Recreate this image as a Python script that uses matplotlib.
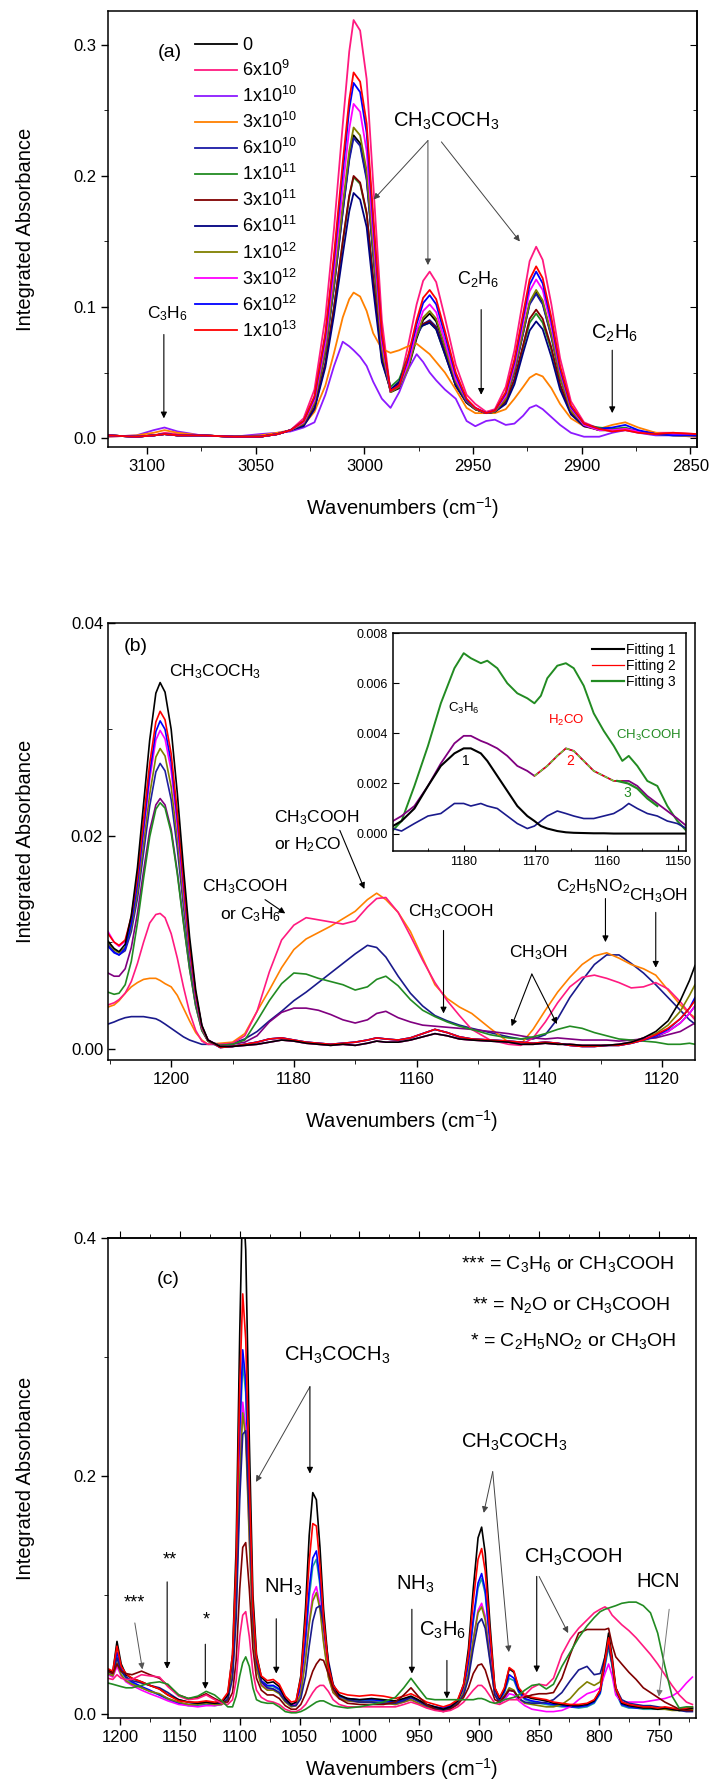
import matplotlib.pyplot as plt
from matplotlib.ticker import MultipleLocator, FormatStrFormatter

plt.rcParams['font.family'] = ['Liberation Sans', 'DejaVu Sans']
plt.rcParams['mathtext.fontset'] = 'custom'
plt.rcParams['mathtext.rm'] = 'Liberation Sans'
plt.rcParams['mathtext.it'] = 'Liberation Sans:italic'
plt.rcParams['mathtext.bf'] = 'Liberation Sans:bold'
plt.rcParams['axes.linewidth'] = 1.1

# ---------------- panel (a): 3120-2850 cm-1 ----------------
wn_a = [3118, 3105, 3097, 3092, 3086, 3075, 3060, 3048, 3040, 3034,
        3028, 3023, 3018, 3014, 3010, 3007, 3005, 3002, 2999, 2996,
        2992, 2988, 2984, 2980, 2976, 2973, 2970, 2967, 2963, 2958,
        2953, 2949, 2944, 2940, 2935, 2931, 2927, 2924, 2921, 2918,
        2914, 2910, 2905, 2899, 2892,
        2886, 2880, 2874, 2866, 2858, 2847]

base_a_left = [.002, .001, .002, .003, .002, .002, .001, .001, .003, .006]
base_a_right = [.006, .007, .005, .003, .003, .002]

doses = ['0', '6x10$^{9}$', '1x10$^{10}$', '3x10$^{10}$', '6x10$^{10}$',
         '1x10$^{11}$', '3x10$^{11}$', '6x10$^{11}$', '1x10$^{12}$',
         '3x10$^{12}$', '6x10$^{12}$', '1x10$^{13}$']
colors_a = ['black', '#FF1A80', '#8C1AFF', '#FF8000', '#1A1AA6', '#228B22',
            '#800000', '#000080', '#808000', '#FF00FF', '#0000FF', '#FF0000']

a_0 = base_a_left + [
    .011, .027, .066, .116, .173, .214, .231, .225, .199, .141,
    .068, .035, .038, .052, .076, .090, .095, .089, .069, .043,
    .028, .022, .019, .020, .031, .051, .080, .103, .111, .103,
    .078, .047, .022, .010, .006] + base_a_right
a_6e9 = [.002, .001, .002, .004, .003, .002, .001, .001, .003, .006] + [
    .015, .037, .092, .160, .239, .295, .319, .311, .274, .195,
    .090, .035, .041, .070, .102, .120, .127, .119, .092, .056,
    .033, .026, .020, .022, .039, .067, .106, .135, .146, .136,
    .102, .061, .028, .012, .007] + [.005, .006, .005, .004, .004, .003]
a_1e10 = [.001, .002, .006, .008, .005, .002, .001, .003, .004, .005,
          .008, .012, .033, .055, .0735, .070, .067, .062, .055, .043,
          .030, .023, .035, .052, .064, .058, .050, .044, .037, .030,
          .013, .009, .013, .014, .010, .011, .017, .023, .025, .022,
          .016, .010, .004, .001, .001,
          .004, .006, .004, .002, .002, .001]
a_3e10 = [.001, .002, .004, .006, .004, .002, .001, .002, .004, .006,
          .010, .020, .040, .065, .092, .106, .111, .108, .097, .080,
          .068, .065, .067, .070, .072, .068, .064, .058, .050, .037,
          .023, .019, .019, .019, .022, .030, .039, .046, .049, .047,
          .038, .026, .015, .009, .007,
          .010, .012, .008, .004, .002, .001]
a_6e10 = base_a_left + [
    .011, .026, .066, .115, .172, .212, .229, .223, .197, .140,
    .068, .037, .040, .055, .078, .087, .090, .085, .066, .041,
    .027, .022, .019, .020, .030, .050, .080, .102, .110, .102,
    .077, .046, .021, .010, .006] + base_a_right
a_1e11 = base_a_left + [
    .010, .023, .057, .100, .149, .184, .199, .194, .171, .122,
    .062, .039, .045, .062, .082, .086, .088, .083, .064, .040,
    .027, .022, .019, .020, .027, .044, .069, .088, .095, .088,
    .067, .040, .019, .010, .008] + [.007, .008, .005, .003, .002, .002]
a_3e11 = base_a_left + [
    .010, .023, .057, .100, .150, .185, .200, .195, .172, .122,
    .060, .036, .042, .060, .082, .087, .089, .084, .065, .040,
    .027, .022, .019, .020, .028, .045, .071, .091, .098, .091,
    .069, .041, .019, .009, .006] + base_a_right
a_6e11 = base_a_left + [
    .009, .022, .054, .094, .140, .173, .187, .182, .161, .114,
    .058, .037, .043, .060, .083, .086, .088, .083, .064, .040,
    .027, .022, .019, .020, .026, .041, .065, .082, .089, .083,
    .062, .037, .018, .009, .007] + base_a_right
a_1e12 = base_a_left + [
    .011, .027, .068, .119, .178, .219, .237, .231, .204, .145,
    .068, .035, .039, .053, .078, .092, .097, .091, .070, .043,
    .028, .022, .019, .020, .030, .052, .082, .104, .113, .105,
    .079, .047, .021, .010, .006] + base_a_right
a_3e12 = base_a_left + [
    .012, .029, .073, .128, .191, .236, .255, .249, .219, .156,
    .073, .036, .040, .056, .082, .097, .102, .096, .074, .045,
    .029, .023, .019, .021, .032, .055, .088, .112, .121, .113,
    .085, .051, .023, .010, .006] + base_a_right
a_6e12 = base_a_left + [
    .013, .031, .078, .136, .203, .251, .271, .264, .233, .165,
    .078, .036, .040, .060, .087, .103, .109, .102, .079, .048,
    .029, .023, .019, .021, .034, .058, .092, .117, .127, .118,
    .089, .053, .024, .011, .007] + [.008, .010, .006, .003, .002, .002]
a_1e13 = base_a_left + [
    .013, .032, .080, .140, .210, .258, .279, .272, .240, .170,
    .080, .036, .040, .062, .090, .107, .113, .106, .082, .050,
    .030, .023, .019, .021, .035, .060, .095, .121, .131, .122,
    .092, .055, .025, .011, .007] + [.005, .006, .004, .003, .004, .003]

spectra_a = [a_0, a_6e9, a_1e10, a_3e10, a_6e10, a_1e11, a_3e11, a_6e11,
             a_1e12, a_3e12, a_6e12, a_1e13]

# ---------------- panel (b): 1210-1115 cm-1 ----------------
wn_b = [1210.3, 1209.3, 1208.5, 1207.5, 1206.5, 1205.5, 1204.5, 1203.5, 1202.5,
        1201.8, 1201, 1200, 1199, 1198, 1197, 1196, 1195, 1194,
        1192, 1190, 1188, 1186, 1184, 1182, 1180, 1178, 1176, 1174,
        1172, 1170, 1168, 1166.5, 1165, 1163, 1161, 1159, 1157, 1155,
        1153, 1151, 1148, 1145, 1143, 1141, 1139, 1137, 1135, 1133,
        1131, 1129, 1127, 1125, 1123, 1121, 1119, 1117, 1115.5, 1114.6]

base_b1 = [.0002, .0002, .0003, .0004, .0006, .0008, .0007, .0005, .0004, .0003,
           .0004, .0003, .0005, .0007, .0006, .0006, .0008, .0011, .0014, .0012,
           .0009, .0008, .0007, .0006, .0004, .0004, .0005, .0004, .0004, .0003,
           .0003, .0003, .0004, .0006, .0010]
base_b2 = [.0001, .0002, .0004, .0006, .0009, .0010, .0008, .0006, .0005, .0004,
           .0005, .0006, .0008, .0010, .0009, .0008, .0010, .0014, .0018, .0015,
           .0011, .0009, .0008, .0007, .0006, .0005, .0006, .0005, .0003, .0002,
           .0002, .0003, .0003, .0005, .0008]

b_black = [.0101, .0094, .0091, .0098, .0125, .0170, .0230, .0290, .0334,
           .0344, .0335, .0300, .0240, .0170, .0105, .0055, .0022, .0008] + \
    base_b1 + [.0016, .0026, .0045, .0064, .0078]
b_red = [.0108, .0100, .0097, .0102, .0124, .0162, .0215, .0268, .0307,
         .0317, .0309, .0277, .0222, .0158, .0098, .0052, .0021, .0008] + \
    base_b2 + [.0013, .0019, .0028, .0038, .0045]
b_blue = [.0096, .0090, .0088, .0094, .0117, .0155, .0207, .0259, .0298,
          .0308, .0300, .0269, .0216, .0154, .0096, .0051, .0021, .0008] + \
    base_b2 + [.0012, .0018, .0028, .0038, .0048]
b_magenta = [.0110, .0100, .0096, .0101, .0121, .0155, .0204, .0253, .0290,
             .0299, .0291, .0261, .0209, .0149, .0093, .0049, .0020, .0008] + \
    base_b1 + [.0012, .0016, .0024, .0033, .0040]
b_olive = [.0100, .0093, .0090, .0095, .0114, .0147, .0193, .0239, .0274,
           .0282, .0275, .0246, .0197, .0141, .0088, .0047, .0019, .0007] + \
    base_b1 + [.0014, .0022, .0035, .0050, .0060]
b_royal = [.0098, .0091, .0088, .0092, .0110, .0141, .0184, .0228, .0260,
           .0268, .0261, .0234, .0188, .0134, .0084, .0045, .0019, .0007] + \
    base_b2 + [.0011, .0016, .0024, .0033, .0040]
b_green = [.0053, .0051, .0052, .0060, .0082, .0118, .0160, .0199, .0225,
           .0231, .0226, .0203, .0164, .0118, .0075, .0040, .0017, .0007,
           .0003, .0004, .0008, .0026, .0045, .0061, .0071, .0070, .0066, .0063,
           .0060, .0055, .0058, .0065, .0068, .0059, .0046, .0036, .0030, .0025,
           .0021, .0018, .0013, .0010, .0009, .0011, .0014, .0018, .0021, .0019,
           .0015, .0012, .0009, .0008, .0007, .0006, .0004, .0004, .0005, .0004]
b_purple = [.0071, .0068, .0068, .0075, .0095, .0127, .0167, .0205, .0229,
            .0235, .0229, .0206, .0166, .0119, .0075, .0040, .0017, .0007,
            .0003, .0004, .0006, .0012, .0025, .0034, .0038, .0038, .0036, .0032,
            .0027, .0024, .0027, .0033, .0035, .0029, .0025, .0022, .0021, .0020,
            .0019, .0018, .0016, .0014, .0012, .0010, .0009, .0010, .0009, .0008,
            .0008, .0008, .0007, .0008, .0009, .0010, .0013, .0016, .0021, .0024]
b_pink = [.0041, .0043, .0046, .0052, .0063, .0080, .0100, .0118, .0126,
          .0127, .0123, .0108, .0085, .0058, .0034, .0017, .0007, .0004,
          .0004, .0005, .0012, .0035, .0072, .0102, .0116, .0123, .0121, .0119,
          .0117, .0120, .0133, .0141, .0142, .0128, .0106, .0083, .0062, .0045,
          .0031, .0018, .0008, .0004, .0003, .0010, .0025, .0043, .0058, .0067,
          .0069, .0066, .0062, .0057, .0058, .0062, .0056, .0044, .0033, .0027]
b_orange = [.0039, .0041, .0045, .0052, .0058, .0062, .0065, .0066, .0066,
            .0064, .0061, .0058, .0050, .0038, .0026, .0015, .0008, .0004,
            .0005, .0006, .0014, .0035, .0055, .0076, .0093, .0103, .0109, .0115,
            .0122, .0129, .0140, .0146, .0140, .0128, .0110, .0085, .0060, .0047,
            .0039, .0033, .0019, .0006, .0004, .0018, .0036, .0053, .0067, .0079,
            .0087, .0090, .0085, .0079, .0075, .0069, .0055, .0041, .0033, .0029]
b_navy = [.0023, .0025, .0027, .0029, .0030, .0030, .0030, .0029, .0028,
          .0026, .0023, .0019, .0015, .0011, .0008, .0006, .0004, .0004,
          .0004, .0005, .0009, .0016, .0026, .0035, .0045, .0053, .0062, .0071,
          .0080, .0089, .0097, .0095, .0086, .0068, .0052, .0040, .0031, .0026,
          .0022, .0019, .0015, .0011, .0009, .0009, .0013, .0028, .0048, .0064,
          .0079, .0088, .0088, .0080, .0071, .0060, .0048, .0036, .0027, .0023]

spectra_b = [b_navy, b_orange, b_pink, b_purple, b_green, b_royal, b_olive,
             b_magenta, b_blue, b_red, b_black]
colors_b = ['#1A1A8C', '#FF8000', '#FF1A80', '#800080', '#228B22', '#2020A0',
            '#808000', '#FF00FF', '#0000FF', '#FF0000', 'black']

# inset of panel (b): band fitting
wn_in = [1189.9, 1188.7, 1186.9, 1185, 1183.2, 1181.3, 1180, 1179, 1177.6, 1176.7,
         1175.3, 1173.9, 1172.5, 1171.1, 1170.1, 1169.2, 1168.3, 1166.9, 1165.7, 1164.6,
         1163.2, 1161.8, 1160.4, 1159, 1157.8, 1156.9, 1155.7, 1154.3, 1152.9, 1151.5,
         1150.1, 1148.8]
in_green = [.00013, .0005, .0019, .0035, .0052, .0066, .0072, .0070, .0068, .0069,
            .0066, .0060, .0056, .0054, .0052, .0055, .0062, .0067, .0068, .0066,
            .0059, .0048, .0041, .0035, .0029, .0031, .0027, .0021, .0019, .0011,
            .0005, .0001]
in_purple = [.0005, .0007, .0011, .0019, .0028, .0036, .0039, .0039, .0037, .0036,
             .0034, .0031, .0027, .0025, .0023, .0025, .0027, .0031, .0034, .0033,
             .0029, .0025, .0023, .0021, .0021, .0021, .0019, .0015, .0012, .0009,
             .0006, .0003]
in_navy = [.0002, .0001, .0004, .0007, .0008, .0012, .0012, .0011, .0012, .0011,
           .0010, .0007, .0004, .0002, .0003, .0005, .0007, .0009, .0008, .0007,
           .0006, .0006, .0007, .0008, .0010, .0012, .0010, .0008, .0007, .0005,
           .0004, .0002]
fit1 = [.0003, .0005, .0010, .0019, .0027, .0032, .0034, .0034, .0032, .0029,
        .0023, .0017, .0011, .0007, .0005, .0003, .0002, .0001, .00005, .00003,
        .00002, .00001, .00001, 0, 0, 0, 0, 0, 0, 0, 0, 0]
fit2_wn = [1170.1, 1169.2, 1168.3, 1166.9, 1165.7, 1164.6, 1163.2, 1161.8, 1160.4, 1159, 1157.8]
fit2 = [.0023, .0025, .0027, .0031, .0034, .0033, .0029, .0025, .0023, .0021, .0021]
fit3_wn = [1158.5, 1157, 1155.7, 1154.3, 1152.9]
fit3 = [.0021, .0020, .0018, .0014, .0011]

# ---------------- panel (c): 1210-720 cm-1 ----------------
wn_c = [1210, 1206, 1202.5, 1199, 1195, 1190, 1182, 1175, 1167, 1160,
        1151, 1143, 1135, 1128, 1121, 1115, 1110, 1106, 1103, 1100,
        1097.5, 1095, 1092, 1089, 1086, 1082, 1077, 1072, 1067, 1062,
        1057, 1053, 1049, 1045, 1042, 1039, 1036, 1033, 1030, 1026,
        1022, 1017, 1010, 1000, 990, 980, 970, 963, 957, 951,
        944, 937, 930, 924, 918, 913, 909, 905, 901, 898,
        895, 891, 887, 883, 879, 875, 871, 867, 862, 856,
        850, 844, 838, 831, 824, 817, 810, 804, 799, 795,
        792, 789, 786, 781, 775, 769, 763, 757, 751, 745,
        739, 733, 727, 722]

c_black = [.037, .035, .061, .042, .033, .030, .027, .024, .021, .016,
           .012, .010, .009, .010, .009, .010, .016, .050, .140, .320,
           .440, .390, .230, .100, .050, .031, .026, .027, .023, .013,
           .008, .010, .032, .090, .150, .186, .180, .140, .088, .042,
           .024, .016, .013, .012, .013, .012, .011, .013, .015, .012,
           .008, .006, .004, .006, .011, .025, .055, .105, .148, .157,
           .135, .075, .022, .013, .021, .038, .035, .021, .015, .013,
           .012, .011, .009, .008, .007, .007, .008, .011, .020, .048,
           .068, .048, .022, .009, .007, .006, .005, .005, .004, .005,
           .004, .003, .004, .005]
c_red = [.038, .036, .057, .040, .034, .030, .027, .024, .021, .016,
         .011, .010, .010, .011, .010, .011, .018, .050, .125, .275,
         .353, .315, .195, .090, .048, .032, .028, .029, .025, .015,
         .010, .011, .030, .080, .128, .160, .158, .125, .080, .040,
         .024, .018, .016, .015, .016, .015, .013, .015, .017, .014,
         .010, .008, .006, .008, .012, .025, .050, .095, .130, .139,
         .120, .068, .022, .014, .022, .039, .036, .022, .016, .014,
         .013, .012, .010, .009, .008, .008, .009, .012, .020, .045,
         .064, .045, .022, .010, .008, .007, .006, .006, .005, .006,
         .005, .004, .005, .006]
c_blue = [.036, .034, .052, .038, .031, .027, .023, .020, .016, .013,
          .009, .008, .008, .009, .008, .009, .015, .042, .110, .240,
          .306, .280, .175, .082, .044, .028, .024, .024, .021, .013,
          .008, .009, .024, .065, .105, .131, .137, .112, .074, .037,
          .021, .015, .013, .012, .012, .011, .010, .012, .014, .011,
          .008, .006, .005, .007, .011, .022, .043, .080, .110, .118,
          .104, .060, .020, .012, .019, .033, .030, .019, .013, .011,
          .010, .009, .008, .007, .006, .006, .007, .010, .018, .042,
          .060, .042, .019, .008, .006, .005, .005, .005, .004, .005,
          .004, .004, .004, .005]
c_cyan = [.035, .033, .048, .036, .030, .026, .022, .019, .016, .012,
          .009, .007, .007, .008, .007, .008, .014, .040, .105, .230,
          .295, .270, .170, .080, .043, .027, .023, .023, .020, .012,
          .007, .008, .022, .060, .098, .124, .130, .108, .071, .036,
          .020, .014, .012, .011, .011, .010, .009, .011, .013, .010,
          .007, .005, .004, .006, .010, .021, .041, .077, .106, .114,
          .101, .058, .019, .011, .018, .030, .028, .018, .012, .010,
          .009, .008, .007, .006, .006, .005, .006, .009, .017, .040,
          .056, .040, .018, .007, .005, .005, .004, .004, .004, .004,
          .004, .003, .004, .004]
c_magenta = [.033, .031, .040, .032, .027, .024, .020, .017, .014, .011,
             .008, .007, .006, .007, .007, .008, .013, .036, .095, .205,
             .262, .240, .150, .072, .040, .025, .021, .021, .018, .011,
             .007, .008, .018, .048, .078, .100, .107, .092, .062, .032,
             .018, .013, .011, .010, .010, .009, .008, .010, .012, .009,
             .006, .004, .003, .005, .009, .018, .034, .063, .087, .093,
             .082, .048, .016, .009, .012, .017, .016, .011, .007, .004,
             .003, .002, .002, .003, .006, .012, .017, .019, .022, .034,
             .042, .032, .016, .010, .010, .010, .010, .011, .012, .013,
             .015, .019, .026, .031]
c_olive = [.034, .032, .043, .033, .028, .025, .022, .019, .017, .013,
           .010, .008, .008, .009, .008, .008, .013, .035, .092, .198,
           .253, .232, .146, .070, .038, .024, .020, .020, .017, .010,
           .006, .007, .017, .046, .075, .095, .102, .088, .060, .031,
           .018, .013, .011, .010, .010, .009, .008, .010, .012, .009,
           .006, .004, .003, .005, .009, .018, .034, .062, .085, .090,
           .079, .046, .016, .010, .015, .022, .020, .013, .009, .008,
           .007, .006, .006, .008, .013, .021, .027, .024, .027, .045,
           .060, .042, .020, .010, .007, .006, .005, .005, .004, .004,
           .003, .003, .003, .004]
c_navy = [.037, .035, .047, .036, .031, .028, .026, .024, .022, .018,
          .012, .010, .009, .010, .009, .009, .012, .030, .080, .180,
          .235, .238, .165, .082, .044, .027, .022, .021, .018, .011,
          .007, .007, .013, .032, .057, .078, .089, .091, .075, .045,
          .025, .016, .012, .010, .010, .009, .009, .011, .014, .011,
          .007, .005, .003, .005, .009, .016, .030, .055, .076, .080,
          .072, .044, .016, .010, .014, .020, .019, .013, .010, .009,
          .009, .010, .012, .018, .028, .037, .040, .033, .034, .048,
          .058, .042, .022, .012, .009, .008, .007, .007, .006, .005,
          .004, .003, .002, .002]
c_wine = [.036, .034, .042, .036, .034, .033, .036, .033, .030, .024,
          .016, .013, .014, .017, .013, .010, .010, .018, .045, .105,
          .140, .144, .105, .055, .030, .020, .016, .016, .013, .007,
          .004, .004, .008, .017, .027, .036, .042, .046, .045, .034,
          .021, .013, .009, .008, .008, .008, .010, .016, .022, .015,
          .008, .004, .002, .004, .008, .014, .022, .034, .041, .042,
          .037, .024, .012, .010, .015, .020, .019, .014, .014, .016,
          .017, .017, .018, .030, .050, .068, .071, .071, .071, .071,
          .072, .058, .048, .042, .035, .029, .022, .018, .014, .010,
          .007, .004, .003, .003]
c_pink = [.030, .029, .033, .030, .029, .029, .033, .032, .031, .023,
          .015, .012, .013, .016, .012, .009, .008, .012, .028, .065,
          .083, .086, .065, .035, .020, .014, .011, .010, .008, .004,
          .002, .002, .004, .008, .013, .018, .022, .024, .024, .019,
          .012, .008, .006, .006, .006, .006, .006, .008, .010, .008,
          .005, .003, .002, .003, .006, .010, .015, .020, .024, .024,
          .021, .015, .009, .008, .010, .012, .012, .012, .016, .022,
          .025, .024, .030, .050, .063, .072, .079, .085, .088, .090,
          .088, .083, .080, .075, .070, .064, .057, .050, .042, .033,
          .024, .016, .010, .008]
c_green = [.026, .025, .024, .023, .022, .022, .024, .026, .027, .025,
           .016, .013, .015, .019, .016, .011, .006, .006, .015, .032,
           .043, .048, .040, .022, .012, .010, .009, .009, .006, .002,
           .001, .001, .002, .004, .006, .008, .010, .011, .011, .009,
           .007, .006, .005, .006, .008, .010, .014, .022, .030, .022,
           .013, .012, .012, .012, .012, .012, .012, .012, .013, .013,
           .012, .010, .009, .010, .012, .013, .014, .016, .020, .024,
           .025, .021, .025, .040, .052, .064, .074, .081, .086, .088,
           .089, .090, .091, .093, .094, .094, .091, .085, .068, .040,
           .015, .005, .006, .006]

spectra_c = [c_cyan, c_blue, c_magenta, c_olive, c_navy, c_black, c_red,
             c_wine, c_pink, c_green]
colors_c = ['#1E9E9E', '#0000FF', '#FF00FF', '#808000', '#1A1A8C', 'black',
            '#FF0000', '#800000', '#FF1A80', '#228B22']


def arrow(ax, x0, y0, x1, y1, color='black', lw=0.8):
    ax.annotate('', xy=(x1, y1), xytext=(x0, y0),
                arrowprops=dict(arrowstyle='-|>', color=color, lw=lw,
                                mutation_scale=9, shrinkA=0, shrinkB=0))


def style_axis(ax, label_x=-0.124):
    ax.set_ylabel('Integrated Absorbance', fontsize=14.5)
    ax.yaxis.set_label_coords(label_x, 0.5)
    ax.tick_params(labelsize=12, width=1.0)
    ax.tick_params(which='major', length=5)
    ax.tick_params(which='minor', length=3)


fig = plt.figure(figsize=(7.11, 17.82), dpi=100)

# Panel (a)
ax1 = fig.add_axes([0.1519, 0.7492, 0.8284, 0.2447])
for y, c, lab in zip(spectra_a, colors_a, doses):
    ax1.plot(wn_a, y, color=c, lw=1.3, label=lab)
ax1.set_xlim(3118, 2847)
ax1.set_ylim(-0.0068, 0.326)
ax1.xaxis.set_major_locator(MultipleLocator(50))
ax1.xaxis.set_minor_locator(MultipleLocator(25))
ax1.yaxis.set_major_locator(MultipleLocator(0.1))
ax1.yaxis.set_minor_locator(MultipleLocator(0.05))
ax1.yaxis.set_major_formatter(FormatStrFormatter('%.1f'))
ax1.tick_params(which='both', direction='out')
style_axis(ax1)
ax1.set_xlabel('Wavenumbers (cm$^{-1}$)', fontsize=14.5)
ax1.xaxis.set_label_coords(0.5, -0.11)
sec1 = ax1.secondary_yaxis('right')
sec1.yaxis.set_major_locator(MultipleLocator(0.1))
sec1.yaxis.set_minor_locator(MultipleLocator(0.05))
sec1.tick_params(which='both', direction='in', labelright=False)
sec1.tick_params(which='major', length=5)
sec1.tick_params(which='minor', length=3)
ax1.legend(loc='upper left', bbox_to_anchor=(0.148, 0.94), frameon=False,
           fontsize=13, handlelength=2.3, handletextpad=0.3, labelspacing=0.33,
           borderpad=0, borderaxespad=0)
ax1.text(3089.5, 0.294, '(a)', fontsize=14, ha='center', va='center')
ax1.text(2962.5, 0.242, 'CH$_3$COCH$_3$', fontsize=14.5, ha='center', va='center')
arrow(ax1, 2970.8, 0.227, 2995.8, 0.182, color='#444444', lw=0.7)
arrow(ax1, 2970.8, 0.227, 2970.8, 0.132, color='#444444', lw=0.7)
arrow(ax1, 2964.6, 0.226, 2928.5, 0.150, color='#444444', lw=0.7)
ax1.text(2947.5, 0.121, 'C$_2$H$_6$', fontsize=13, ha='center', va='center')
arrow(ax1, 2946.3, 0.098, 2946.3, 0.033)
ax1.text(3090.6, 0.095, 'C$_3$H$_6$', fontsize=12.5, ha='center', va='center')
arrow(ax1, 3092.3, 0.079, 3092.3, 0.015)
ax1.text(2884.8, 0.080, 'C$_2$H$_6$', fontsize=14.5, ha='center', va='center')
arrow(ax1, 2886, 0.067, 2886, 0.019)

# Panel (b)
ax2 = fig.add_axes([0.1519, 0.4052, 0.8256, 0.2452])
for y, c in zip(spectra_b, colors_b):
    ax2.plot(wn_b, y, color=c, lw=1.2)
ax2.set_xlim(1210.3, 1114.6)
ax2.set_ylim(-0.00107, 0.04)
ax2.xaxis.set_major_locator(MultipleLocator(20))
ax2.xaxis.set_minor_locator(MultipleLocator(10))
ax2.yaxis.set_major_locator(MultipleLocator(0.02))
ax2.yaxis.set_minor_locator(MultipleLocator(0.01))
ax2.yaxis.set_major_formatter(FormatStrFormatter('%.2f'))
ax2.tick_params(axis='x', which='both', direction='out')
ax2.tick_params(axis='y', which='both', direction='in')
style_axis(ax2)
ax2.set_xlabel('Wavenumbers (cm$^{-1}$)', fontsize=14.5)
ax2.xaxis.set_label_coords(0.5, -0.11)
ax2.text(1205.8, 0.0378, '(b)', fontsize=14, ha='center', va='center')
ax2.text(1192.8, 0.0354, 'CH$_3$COCH$_3$', fontsize=12.5, ha='center', va='center')
ax2.text(1183.2, 0.0217, 'CH$_3$COOH', fontsize=12.5, ha='left', va='center')
ax2.text(1183.2, 0.0192, 'or H$_2$CO', fontsize=12.5, ha='left', va='center')
arrow(ax2, 1172.5, 0.0205, 1168.5, 0.0150)
ax2.text(1194.9, 0.0152, 'CH$_3$COOH', fontsize=12.5, ha='left', va='center')
ax2.text(1192.1, 0.0126, 'or C$_3$H$_6$', fontsize=12.5, ha='left', va='center')
arrow(ax2, 1184.7, 0.0140, 1181.4, 0.0127)
ax2.text(1154.5, 0.0129, 'CH$_3$COOH', fontsize=12.5, ha='center', va='center')
arrow(ax2, 1155.6, 0.0111, 1155.6, 0.0033)
ax2.text(1131.2, 0.0152, 'C$_2$H$_5$NO$_2$', fontsize=12.5, ha='center', va='center')
arrow(ax2, 1129.2, 0.0141, 1129.2, 0.0100)
ax2.text(1120.5, 0.0144, 'CH$_3$OH', fontsize=12.5, ha='center', va='center')
arrow(ax2, 1121, 0.0128, 1121, 0.0076)
ax2.text(1140.1, 0.0090, 'CH$_3$OH', fontsize=12.5, ha='center', va='center')
arrow(ax2, 1141.2, 0.0070, 1144.5, 0.0021)
arrow(ax2, 1141.2, 0.0070, 1137.1, 0.0023)

# inset
ax3 = fig.add_axes([0.5527, 0.5224, 0.412, 0.1223])
ax3.plot(wn_in, in_green, color='#228B22', lw=1.4)
ax3.plot(wn_in, in_purple, color='#800080', lw=1.3)
ax3.plot(wn_in, in_navy, color='#1A1A8C', lw=1.2)
ax3.plot(wn_in, fit1, color='black', lw=1.5, label='Fitting 1')
ax3.plot(fit2_wn, fit2, color='#FF0000', lw=0.9, label='Fitting 2')
ax3.plot(fit2_wn, fit2, color='#66DD33', lw=1.0, ls=(0, (3, 2)))
ax3.plot(fit3_wn, fit3, color='#228B22', lw=1.6, label='Fitting 3')
ax3.set_xlim(1189.9, 1148.9)
ax3.set_ylim(-0.0007, 0.008)
ax3.xaxis.set_major_locator(MultipleLocator(10))
ax3.xaxis.set_minor_locator(MultipleLocator(5))
ax3.yaxis.set_major_locator(MultipleLocator(0.002))
ax3.yaxis.set_major_formatter(FormatStrFormatter('%.3f'))
ax3.tick_params(which='both', direction='in', labelsize=9)
ax3.tick_params(which='major', length=4)
ax3.tick_params(which='minor', length=2.5)
handles, labels = ax3.get_legend_handles_labels()
ax3.legend(handles, labels, loc='upper right', frameon=False, fontsize=10,
           handlelength=2.3, handletextpad=0.2, labelspacing=0.15,
           borderaxespad=0.3)
ax3.text(1180, 0.0050, 'C$_3$H$_6$', fontsize=9.5, ha='center', va='center')
ax3.text(1165.6, 0.0045, 'H$_2$CO', fontsize=9.5, ha='center', va='center', color='#FF0000')
ax3.text(1154.1, 0.0039, 'CH$_3$COOH', fontsize=9.5, ha='center', va='center', color='#228B22')
ax3.text(1179.7, 0.0029, '1', fontsize=10, ha='center', va='center')
ax3.text(1165.1, 0.0029, '2', fontsize=10, ha='center', va='center', color='#FF0000')
ax3.text(1157.1, 0.0016, '3', fontsize=10, ha='center', va='center', color='#228B22')

# Panel (c)
ax4 = fig.add_axes([0.1519, 0.0359, 0.827, 0.2694])
for y, c in zip(spectra_c, colors_c):
    ax4.plot(wn_c, y, color=c, lw=1.2)
ax4.set_xlim(1210, 719)
ax4.set_ylim(-0.0034, 0.4)
ax4.xaxis.set_major_locator(MultipleLocator(50))
ax4.xaxis.set_minor_locator(MultipleLocator(25))
ax4.yaxis.set_major_locator(MultipleLocator(0.2))
ax4.yaxis.set_minor_locator(MultipleLocator(0.1))
ax4.yaxis.set_major_formatter(FormatStrFormatter('%.1f'))
ax4.tick_params(which='both', direction='out')
style_axis(ax4)
ax4.set_xlabel('Wavenumbers (cm$^{-1}$)', fontsize=14.5)
ax4.xaxis.set_label_coords(0.5, -0.079)
sec4 = ax4.secondary_xaxis('top')
sec4.xaxis.set_major_locator(MultipleLocator(50))
sec4.xaxis.set_minor_locator(MultipleLocator(25))
sec4.tick_params(which='both', direction='out', labeltop=False)
sec4.tick_params(which='major', length=5)
sec4.tick_params(which='minor', length=3)
ax4.text(1159.5, 0.365, '(c)', fontsize=14, ha='center', va='center')
ax4.text(737.6, 0.378, '*** = C$_3$H$_6$ or CH$_3$COOH', fontsize=14, ha='right', va='center')
ax4.text(740, 0.344, '** = N$_2$O or CH$_3$COOH', fontsize=14, ha='right', va='center')
ax4.text(735.8, 0.313, '* = C$_2$H$_5$NO$_2$ or CH$_3$OH', fontsize=14, ha='right', va='center')
ax4.text(1018.9, 0.301, 'CH$_3$COCH$_3$', fontsize=14.5, ha='center', va='center')
arrow(ax4, 1041.4, 0.275, 1086.4, 0.195, color='#444444', lw=0.7)
arrow(ax4, 1041.4, 0.275, 1041.4, 0.202)
ax4.text(870.75, 0.228, 'CH$_3$COCH$_3$', fontsize=14.5, ha='center', va='center')
arrow(ax4, 888.75, 0.2036, 896.25, 0.169, color='#444444', lw=0.7)
arrow(ax4, 888.75, 0.2036, 875.25, 0.052, color='#444444', lw=0.7)
ax4.text(821.25, 0.132, 'CH$_3$COOH', fontsize=14.5, ha='center', va='center')
arrow(ax4, 852, 0.1156, 852, 0.035)
arrow(ax4, 850, 0.1156, 825.75, 0.068, color='#444444', lw=0.7)
ax4.text(750.75, 0.111, 'HCN', fontsize=14.5, ha='center', va='center')
arrow(ax4, 741.4, 0.088, 750, 0.0147, color='#777777', lw=0.7)
ax4.text(1063.9, 0.106, 'NH$_3$', fontsize=14.5, ha='center', va='center')
arrow(ax4, 1069.5, 0.080, 1069.5, 0.034)
ax4.text(953.25, 0.109, 'NH$_3$', fontsize=14.5, ha='center', va='center')
arrow(ax4, 956.25, 0.088, 956.25, 0.034)
ax4.text(930.75, 0.070, 'C$_3$H$_6$', fontsize=14.5, ha='center', va='center')
arrow(ax4, 927, 0.045, 927, 0.013)
ax4.text(1187.6, 0.093, '***', fontsize=13, ha='center', va='center')
arrow(ax4, 1187.6, 0.0765, 1181.25, 0.0375, color='#555555', lw=0.7)
ax4.text(1158.75, 0.129, '**', fontsize=13, ha='center', va='center')
arrow(ax4, 1160.6, 0.111, 1160.6, 0.038)
ax4.text(1127.6, 0.079, '*', fontsize=13, ha='center', va='center')
arrow(ax4, 1128.75, 0.0586, 1128.75, 0.021)

fig.savefig('out.png', dpi=100)
